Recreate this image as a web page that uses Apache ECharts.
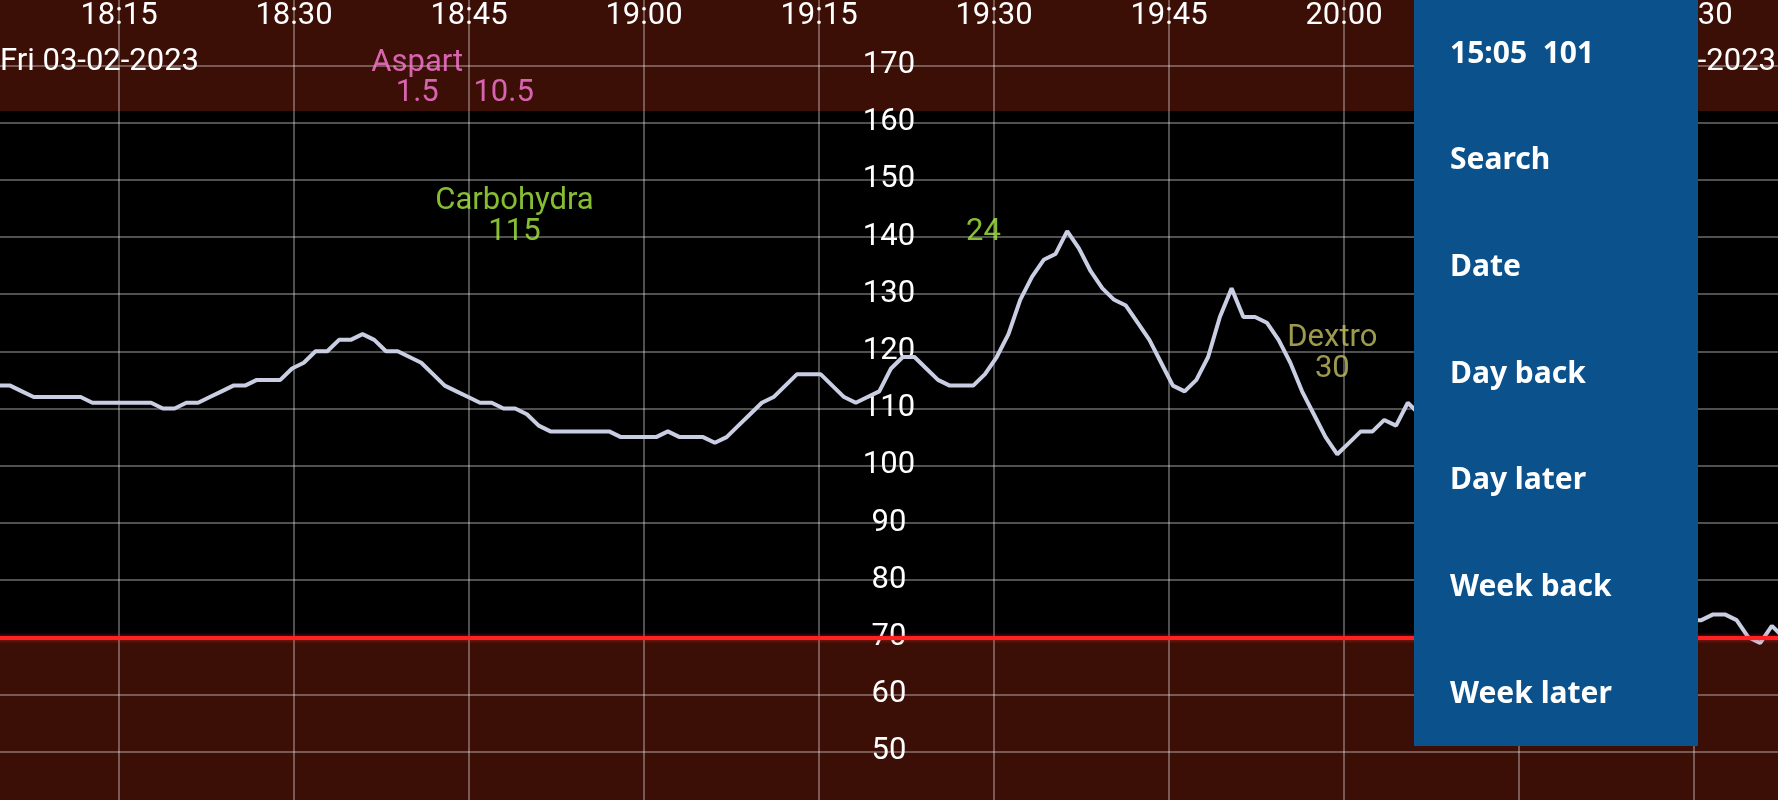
<!DOCTYPE html>
<html>
<head>
<meta charset="utf-8">
<script src="https://cdn.jsdelivr.net/npm/echarts@6/dist/echarts.min.js"></script>
<style>
  html, body { margin: 0; padding: 0; background: #000; }
  #chart { width: 1778px; height: 800px; }
</style>
</head>
<body>
<div id="chart"></div>
<script>
// ---- Data ----
const dayLabel = 'Fri 03-02-2023';
const firstReading = [2023, 1, 3, 18, 4, 40];   // Y, M(0-based), D, h, m, s
const readingStepSeconds = 60.4;
const glucoseValues = [
  114, 114, 113, 112, 112, 112, 112, 112, 111, 111,
  111, 111, 111, 111, 110, 110, 111, 111, 112, 113,
  114, 114, 115, 115, 115, 117, 118, 120, 120, 122,
  122, 123, 122, 120, 120, 119, 118, 116, 114, 113,
  112, 111, 111, 110, 110, 109, 107, 106, 106, 106,
  106, 106, 106, 105, 105, 105, 105, 106, 105, 105,
  105, 104, 105, 107, 109, 111, 112, 114, 116, 116,
  116, 114, 112, 111, 112, 113, 117, 119, 119, 117,
  115, 114, 114, 114, 116, 119, 123, 129, 133, 136,
  137, 141, 138, 134, 131, 129, 128, 125, 122, 118,
  114, 113, 115, 119, 126, 131, 126, 126, 125, 122,
  118, 113, 109, 105, 102, 104, 106, 106, 108, 107,
  111, 109,
  null, null, null, null, null, null, null, null, null, null, null,
  null, null, null, null, null, null, null, null, null, null, null,
  73, 73, 74, 74, 73, 70, 69, 72, 70
];
const lowLimit = 70;
const yTicks = [50, 60, 70, 80, 90, 100, 110, 120, 130, 140, 150, 160, 170];

const insulinName = 'Aspart';
const insulinTimes = ['18:40:34', '18:47:58'];
const insulinDoses = [1.5, 10.5];

const carbName = 'Carbohydra';
const carbTimes = ['18:48:54', '19:29:06'];
const carbGrams = [115, 24];

const dextroName = 'Dextro';
const dextroTimes = ['19:59:00'];
const dextroGrams = [30];

const menuItems = ['15:05  101', 'Search', 'Date', 'Day back', 'Day later', 'Week back', 'Week later'];

// ---- Build ----
const t0 = new Date(...firstReading).getTime();
const series = glucoseValues.map((v, i) => [t0 + Math.round(i * readingStepSeconds * 1000), v]);
function at(hms) {
  const [h, m, s] = hms.split(':').map(Number);
  return new Date(2023, 1, 3, h, m, s).getTime();
}
const QUARTER = 15 * 60 * 1000;
const xMin = at('18:00:00');   // axis runs past the visible window on both sides
const xMax = at('20:45:00');
function hhmm(ms) {
  const d = new Date(ms);
  return String(d.getHours()).padStart(2, '0') + ':' + String(d.getMinutes()).padStart(2, '0');
}

const FONT = 'Roboto';
function notes(name, times, vals, row, color, lh) {
  return {
    type: 'scatter', symbol: 'circle', symbolSize: 1, z: 6,
    itemStyle: { color: 'rgba(0,0,0,0)' },
    silent: true,
    data: times.map((t, i) => ({
      value: [at(t), row],
      label: {
        formatter: i === 0 ? name + '\n' + vals[i] : String(vals[i]),
        offset: i === 0 ? [0, -lh / 2] : [0, 0]
      }
    })),
    label: {
      show: true, position: 'inside', align: 'center', verticalAlign: 'middle',
      color: color, fontSize: 31, fontFamily: FONT, lineHeight: lh
    }
  };
}

const gridColor = 'rgba(255,255,255,0.42)';
const hLineColors = [];
for (let v = 40; v <= 190; v += 10) hLineColors.push(yTicks.indexOf(v) >= 0 ? gridColor : 'rgba(0,0,0,0)');

const chart = echarts.init(document.getElementById('chart'), null, { renderer: 'canvas' });
chart.setOption({
  backgroundColor: '#000000',
  animation: false,
  grid: { left: -56, right: -91, top: -49.1, bottom: -8.9, containLabel: false, outerBoundsMode: 'none' },
  xAxis: {
    type: 'value', position: 'top', min: xMin, max: xMax, interval: QUARTER,
    axisLine: { show: false }, axisTick: { show: false },
    axisLabel: {
      inside: true, margin: 65, verticalAlign: 'middle', color: '#ffffff',
      fontSize: 31, fontFamily: FONT, formatter: v => hhmm(v),
      showMinLabel: false, showMaxLabel: false, hideOverlap: false
    },
    splitLine: { show: true, lineStyle: { color: gridColor, width: 1.5 } }
  },
  yAxis: {
    type: 'value', min: 40, max: 190, interval: 10, position: 'left',
    axisLine: { show: false }, axisTick: { show: false },
    axisLabel: {
      inside: true, margin: 945, align: 'center', verticalAlign: 'middle',
      color: '#ffffff', fontSize: 31, fontFamily: FONT, padding: [4, 0, 0, 0],
      formatter: v => (yTicks.indexOf(v) >= 0 ? String(v) : '')
    },
    splitLine: { show: true, lineStyle: { color: hLineColors, width: 1.5 } }
  },
  series: [
    {
      type: 'line', data: series, showSymbol: false, symbol: 'none',
      connectNulls: false, z: 3,
      lineStyle: { color: '#c9cee3', width: 4 },
      markArea: {
        silent: true, z: -1,
        itemStyle: { color: '#3b0e06' },
        data: [
          [{ yAxis: 162 }, { yAxis: 190 }],
          [{ yAxis: 40 }, { yAxis: lowLimit }]
        ]
      },
      markLine: {
        silent: true, symbol: ['none', 'none'], z: 4,
        label: { show: false },
        lineStyle: { color: '#ff2222', width: 4, type: 'solid', shadowColor: 'rgba(255,40,40,0.6)', shadowBlur: 4 },
        data: [{ yAxis: lowLimit }]
      }
    },
    notes(insulinName, insulinTimes, insulinDoses, 165.1, '#ff7ada', 30),
    notes(carbName, carbTimes, carbGrams, 140.8, '#a9ec3e', 31),
    notes(dextroName, dextroTimes, dextroGrams, 116.8, '#c4c062', 31)
  ],
  graphic: [
    { type: 'text', left: 0, top: 47, z: 50,
      style: { text: dayLabel, fill: '#ffffff', font: '31px Roboto' } },
    { type: 'text', right: 2, top: 47, z: 50,
      style: { text: dayLabel, fill: '#ffffff', font: '31px Roboto' } },
    {
      type: 'group', left: 1414, top: 0, z: 100,
      children: [
        { type: 'rect', shape: { x: 0, y: 0, width: 284, height: 746 }, style: { fill: '#0b528d' }, z: 100 }
      ].concat(menuItems.map((txt, i) => ({
        type: 'text', x: 36, y: 54 + i * 106.7, z: 101,
        style: { text: txt, fill: '#ffffff', font: 'bold 30px "Noto Sans"', verticalAlign: 'middle', align: 'left' }
      })))
    }
  ]
});
</script>
</body>
</html>
